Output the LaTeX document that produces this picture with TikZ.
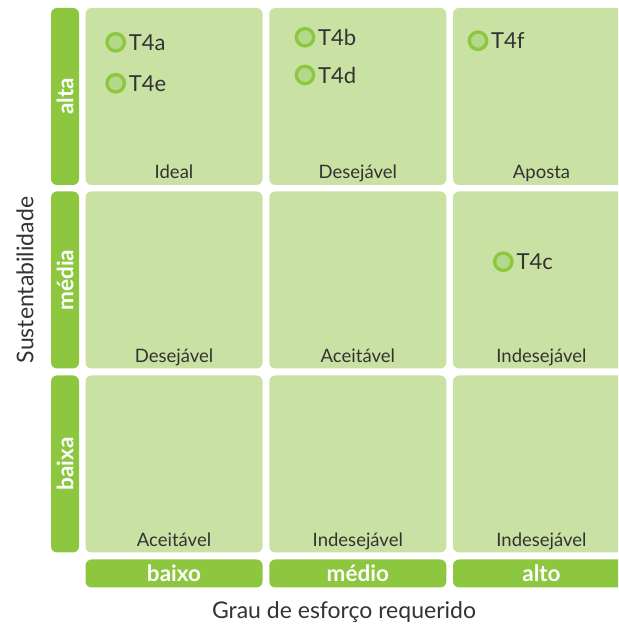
\documentclass[tikz,border=0pt]{standalone}
\usepackage{fontspec}
\setmainfont{Lato}
\usetikzlibrary{positioning}
\definecolor{barra}{HTML}{8DC63F}
\definecolor{celula}{HTML}{C9E1A2}
\definecolor{ponto}{HTML}{B5D98A}
\definecolor{texto}{HTML}{333333}
\begin{document}
\begin{tikzpicture}[x=1pt, y=1pt, every node/.style = {inner sep=0pt, outer sep=0pt}]
	\tikzstyle{cell} = [fill=celula, rounded corners=6pt, minimum width=177pt, minimum height=177pt]
	\tikzstyle{vbar} = [fill=barra, rounded corners=6pt, rotate=90, minimum width=177pt, minimum height=28pt, text=white, font=\fontsize{22.5}{26}\selectfont\bfseries]
	\tikzstyle{hbar} = [fill=barra, rounded corners=6pt, minimum width=177pt, minimum height=28pt, text=white, font=\fontsize{22.5}{26}\selectfont\bfseries]
	\tikzstyle{lbl} = [anchor=base, text=texto, font=\fontsize{18.5}{22}\selectfont]
	\tikzstyle{pt} = [circle, draw=barra, fill=ponto, line width=3.3pt, minimum size=17.4pt]
	\tikzstyle{ptlbl} = [text=texto, font=\fontsize{22}{26}\selectfont]
	\tikzstyle{axis} = [anchor=base, text=texto, font=\fontsize{23}{26}\selectfont]
	\clip (0,0) rectangle (618,626);
	% celulas
	\node[cell] (a1) at (174,529.5) {};
	\node[cell] (a2) at (357.8,529.5) {};
	\node[cell] (a3) at (541.5,529.5) {};
	\node[cell] (m1) at (174,346) {};
	\node[cell] (m2) at (357.8,346) {};
	\node[cell] (m3) at (541.5,346) {};
	\node[cell] (b1) at (174,162) {};
	\node[cell] (b2) at (357.8,162) {};
	\node[cell] (b3) at (541.5,162) {};
	% barras
	\node[vbar] (alta) at (65,529.5) {alta};
	\node[vbar] (media) at (65,346) {média};
	\node[vbar] (baixa) at (65,162) {baixa};
	\node[hbar] (baixo) at (174,52.5) {baixo};
	\node[hbar] (medio) at (357.8,52.5) {médio};
	\node[hbar] (alto) at (541.5,52.5) {alto};
	% rotulos
	\node[lbl] (la1) at ([yshift=6pt]a1.south) {Ideal};
	\node[lbl] (la2) at ([yshift=6pt]a2.south) {Desejável};
	\node[lbl] (la3) at ([yshift=6pt]a3.south) {Aposta};
	\node[lbl] (lm1) at ([yshift=6pt]m1.south) {Desejável};
	\node[lbl] (lm2) at ([yshift=6pt]m2.south) {Aceitável};
	\node[lbl] (lm3) at ([yshift=6pt]m3.south) {Indesejável};
	\node[lbl] (lb1) at ([yshift=6pt]b1.south) {Aceitável};
	\node[lbl] (lb2) at ([yshift=6pt]b2.south) {Indesejável};
	\node[lbl] (lb3) at ([yshift=6pt]b3.south) {Indesejável};
	% pontos
	\node[pt] (t4a) at (115.7,583.7) {};
	\node[ptlbl, right=4.5pt of t4a] (t4alabel) {T4a};
	\node[pt] (t4e) at (115.7,542.7) {};
	\node[ptlbl, right=4.5pt of t4e] (t4elabel) {T4e};
	\node[pt] (t4b) at (305,588.7) {};
	\node[ptlbl, right=4.5pt of t4b] (t4blabel) {T4b};
	\node[pt] (t4d) at (305,551) {};
	\node[ptlbl, right=4.5pt of t4d] (t4dlabel) {T4d};
	\node[pt] (t4f) at (478,585.3) {};
	\node[ptlbl, right=4.5pt of t4f] (t4flabel) {T4f};
	\node[pt] (t4c) at (503.3,364.3) {};
	\node[ptlbl, right=4.5pt of t4c] (t4clabel) {T4c};
	% eixos
	\node[axis] (grau) at (344,7) {Grau de esforço requerido};
	\node[axis, rotate=90] (sust) at (33.3,346) {Sustentabilidade};
\end{tikzpicture}
\end{document}
